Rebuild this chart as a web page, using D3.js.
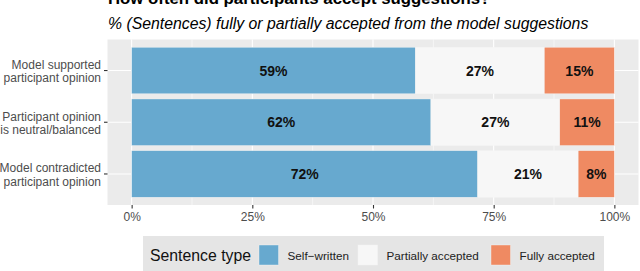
<!DOCTYPE html>
<html>
<head>
<meta charset="utf-8">
<style>
  body { margin: 0; background: #fff; }
  svg { font-family: "Liberation Sans", Arial, sans-serif; display: block; }
</style>
<script src="https://d3js.org/d3.v7.min.js"></script>
</head>
<body>
<svg width="640" height="271"></svg>
<script>
// data (share of sentences, %)
var categories = [
  ["Model supported", "participant opinion"],
  ["Participant opinion", "is neutral/balanced"],
  ["Model contradicted", "participant opinion"]
];
var selfWritten = [58.8, 62.0, 71.7];
var partially   = [26.7, 26.7, 20.8];
var fully       = [14.5, 11.3, 7.5];
var seriesNames = ["Self\u2212written", "Partially accepted", "Fully accepted"];
var colors = ["#67a9cf", "#f7f7f7", "#ef8a62"];
var xTicks = [0, 25, 50, 75, 100];

var svg = d3.select("svg");
var panel = { left: 107.5, right: 638.5, top: 39.5, bottom: 205 };

var x = d3.scaleLinear().domain([-5, 105]).range([panel.left, panel.right]);
var y = d3.scaleBand().domain(d3.range(categories.length))
    .range([panel.top, panel.bottom]).paddingInner(0.1).paddingOuter(0.15);

// titles
svg.append("text").attr("x", 108).attr("y", 4)
   .attr("font-size", "16.8px").attr("font-weight", "bold")
   .text("How often did participants accept suggestions?");
svg.append("text").attr("x", 108).attr("y", 29)
   .attr("font-size", "15.8px").attr("font-style", "italic")
   .text("% (Sentences) fully or partially accepted from the model suggestions");

// panel
svg.append("rect").attr("x", panel.left).attr("y", panel.top)
   .attr("width", panel.right - panel.left).attr("height", panel.bottom - panel.top)
   .attr("fill", "#ebebeb");

var g = svg.append("g");
// minor grid
g.selectAll(".minor").data([12.5, 37.5, 62.5, 87.5]).enter().append("line")
 .attr("x1", function(d) { return x(d); }).attr("x2", function(d) { return x(d); })
 .attr("y1", panel.top).attr("y2", panel.bottom)
 .attr("stroke", "#fff").attr("stroke-width", 0.55);
g.selectAll(".major").data(xTicks).enter().append("line")
 .attr("x1", function(d) { return x(d); }).attr("x2", function(d) { return x(d); })
 .attr("y1", panel.top).attr("y2", panel.bottom)
 .attr("stroke", "#fff").attr("stroke-width", 1.1);
g.selectAll(".hgrid").data(d3.range(categories.length)).enter().append("line")
 .attr("x1", panel.left).attr("x2", panel.right)
 .attr("y1", function(i) { return y(i) + y.bandwidth() / 2; })
 .attr("y2", function(i) { return y(i) + y.bandwidth() / 2; })
 .attr("stroke", "#fff").attr("stroke-width", 1.1);

// stacked bars
var rows = categories.map(function(c, i) {
  return { i: i, vals: [selfWritten[i], partially[i], fully[i]] };
});
var segs = [];
rows.forEach(function(r) {
  var acc = 0;
  r.vals.forEach(function(v, k) {
    segs.push({ i: r.i, k: k, x0: acc, x1: acc + v, v: v });
    acc += v;
  });
});

g.selectAll(".seg").data(segs).enter().append("rect")
 .attr("x", function(d) { return x(d.x0); })
 .attr("width", function(d) { return x(d.x1) - x(d.x0); })
 .attr("y", function(d) { return y(d.i); })
 .attr("height", y.bandwidth())
 .attr("fill", function(d) { return colors[d.k]; })
 .attr("stroke", "#f4f4f4").attr("stroke-width", 0.4);

g.selectAll(".lbl").data(segs).enter().append("text")
 .attr("x", function(d) { return x((d.x0 + d.x1) / 2); })
 .attr("y", function(d) { return y(d.i) + y.bandwidth() / 2; })
 .attr("dy", "0.36em").attr("text-anchor", "middle")
 .attr("font-size", "14px").attr("font-weight", "bold").attr("fill", "#111")
 .text(function(d) { return Math.round(d.v) + "%"; });

// x axis
var xa = svg.append("g").attr("transform", "translate(0," + panel.bottom + ")")
  .call(d3.axisBottom(x).tickValues(xTicks).tickSize(3.5).tickPadding(3.5)
        .tickFormat(function(d) { return d + "%"; }));
xa.select(".domain").remove();
xa.selectAll("line").attr("stroke", "#333").attr("stroke-width", 1.1);
xa.selectAll("text").attr("fill", "#4d4d4d").attr("font-size", "12px")
  .attr("font-family", "Liberation Sans, Arial, sans-serif");

// y axis
var ya = svg.append("g").attr("transform", "translate(" + panel.left + ",0)")
  .call(d3.axisLeft(y).tickSize(3.5).tickFormat(""));
ya.select(".domain").remove();
ya.selectAll("line").attr("stroke", "#333").attr("stroke-width", 1.1);
ya.selectAll(".tick").append("text")
  .attr("x", -6.5).attr("text-anchor", "end")
  .attr("fill", "#4d4d4d").attr("font-size", "12px")
  .selectAll("tspan").data(function(i) { return categories[i]; }).enter().append("tspan")
  .attr("x", -6.5)
  .attr("y", function(d, j) { return j === 0 ? -1.5 : 11.8; })
  .text(function(d) { return d; });

// legend
var lg = svg.append("g");
lg.append("rect").attr("x", 143).attr("y", 236).attr("width", 461).attr("height", 36)
  .attr("fill", "#e5e5e5");
lg.append("text").attr("x", 150).attr("y", 261).attr("font-size", "15.8px")
  .attr("fill", "#111").text("Sentence type");
var keyX = [259, 358, 491];
lg.selectAll(".key").data(seriesNames).enter().append("rect")
  .attr("x", function(d, k) { return keyX[k]; }).attr("y", 245)
  .attr("width", 19.5).attr("height", 20)
  .attr("fill", function(d, k) { return colors[k]; })
  .attr("stroke", "#f4f4f4").attr("stroke-width", 0.4);
lg.selectAll(".kt").data(seriesNames).enter().append("text")
  .attr("x", function(d, k) { return keyX[k] + 28.5; }).attr("y", 259.5)
  .attr("font-size", "11.7px").attr("fill", "#222")
  .text(function(d) { return d; });
</script>
</body>
</html>
